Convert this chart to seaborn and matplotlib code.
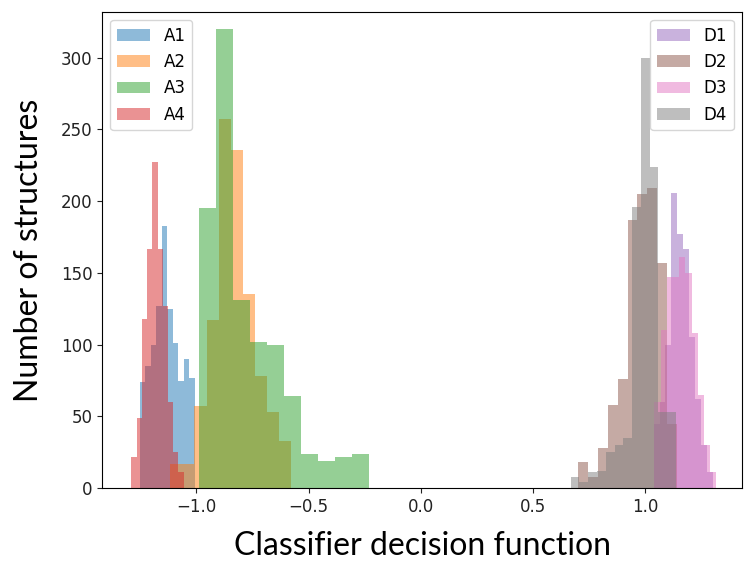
"""
plot.py
=======
Histograms of the classifier decision function for the A and D structure sets.
"""

import matplotlib
matplotlib.use("Agg")
import matplotlib.pyplot as plt
import numpy as np
import pandas as pd
import seaborn as sns


# ======================================================
# DATA  (bin range + counts per set)
# ======================================================

A_NAMES  = ["A1", "A2", "A3", "A4"]
A_RANGES = [(-1.253, -1.008), (-1.116, -0.578), (-0.990, -0.231), (-1.289, -1.057)]
A_COUNTS = [
    [74, 85, 100, 127, 183, 125, 101, 75, 90, 77],
    [17, 17, 57, 117, 257, 236, 135, 78, 53, 33],
    [195, 320, 131, 102, 100, 64, 24, 19, 22, 24],
    [22, 49, 118, 167, 227, 167, 127, 60, 25, 11],
]

D_NAMES  = ["D1", "D2", "D3", "D4"]
D_RANGES = [(1.036, 1.302), (0.698, 1.142), (1.040, 1.316), (0.667, 1.136)]
D_COUNTS = [
    [45, 60, 100, 206, 177, 167, 105, 62, 30, 11],
    [18, 8, 28, 58, 76, 187, 205, 209, 157, 45],
    [60, 110, 147, 147, 161, 150, 108, 65, 30, 11],
    [8, 4, 11, 12, 25, 30, 35, 196, 300, 224, 53, 53],
]

A_COLORS = ["tab:blue", "tab:orange", "tab:green", "tab:red"]
D_COLORS = ["tab:purple", "tab:brown", "tab:pink", "tab:gray"]

X_LABEL = "Classifier decision function"
Y_LABEL = "Number of structures"


# ======================================================
# PLOT
# ======================================================

def draw_set(ax, names, ranges, counts, colors):
    for name, (lo, hi), cnt, col in zip(names, ranges, counts, colors):
        edges = np.linspace(lo, hi, len(cnt) + 1)
        df = pd.DataFrame({
            "x": 0.5 * (edges[:-1] + edges[1:]),
            "w": cnt,
        })
        sns.histplot(
            data=df,
            x="x",
            weights="w",
            bins=edges.tolist(),
            color=col,
            alpha=0.5,
            linewidth=0,
            label=name,
            ax=ax,
        )


fig = plt.figure(figsize=(7.45, 5.63), dpi=100)
ax  = fig.add_axes([0.137, 0.133, 0.859, 0.846])

draw_set(ax, A_NAMES, A_RANGES, A_COUNTS, A_COLORS)
draw_set(ax, D_NAMES, D_RANGES, D_COUNTS, D_COLORS)

ax.set_xlim(-1.42, 1.43)
ax.set_ylim(0, 332)
ax.set_yticks([0, 50, 100, 150, 200, 250, 300])
ax.set_xticks([-1.0, -0.5, 0.0, 0.5, 1.0])
ax.tick_params(labelsize=12, colors="#222222")

ax.set_xlabel(X_LABEL, fontsize=23, family=["Lato", "DejaVu Sans"], labelpad=11)
ax.set_ylabel(Y_LABEL, fontsize=23, family=["Lato", "DejaVu Sans"], labelpad=12)

handles, labels = ax.get_legend_handles_labels()
leg_a = ax.legend(handles[:4], labels[:4], loc="upper left", fontsize=12)
ax.add_artist(leg_a)
ax.legend(handles[4:], labels[4:], loc="upper right", fontsize=12)

fig.savefig("out.png", dpi=100)
